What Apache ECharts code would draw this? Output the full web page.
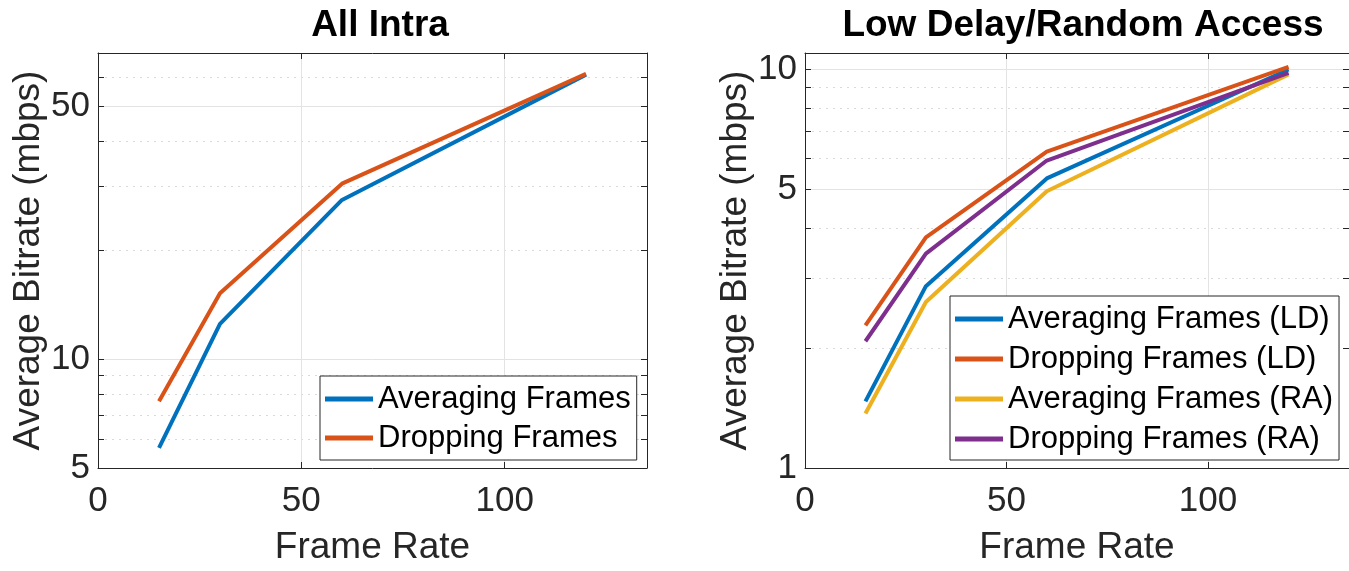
<!DOCTYPE html>
<html>
<head>
<meta charset="utf-8">
<script src="https://cdn.jsdelivr.net/npm/echarts@6/dist/echarts.min.js"></script>
<style>
  html, body { margin: 0; padding: 0; background: #fff; }
  #chart { width: 1349px; height: 571px; }
</style>
</head>
<body>
<div id="chart"></div>
<script>
// frame rates used on both panels
var frameRates = [15, 30, 60, 120]

// All Intra (mbps)
var aiAveraging = [5.68, 12.5, 27.5, 61]
var aiDropping = [7.64, 15.2, 30.5, 61.3]

// Low Delay / Random Access (mbps)
var ldAveraging = [1.47, 2.86, 5.33, 10.0]
var ldDropping = [2.28, 3.79, 6.22, 10.15]
var raAveraging = [1.37, 2.61, 4.95, 9.72]
var raDropping = [2.08, 3.45, 5.91, 9.8]

var xTicks = [0, 50, 100]
var aiTicks = [5, 10, 50]
var aiMinor = [6, 7, 8, 9, 20, 30, 40, 60, 70]
var rdTicks = [1, 5, 10]
var rdMinor = [2, 3, 4, 6, 7, 8, 9]

var colors = ['#0072BD', '#D95319', '#EDB120', '#7E2F8E']
var font = 'Liberation Sans, Arial, Helvetica, sans-serif'
var ink = '#262626'

function pairs (ys) {
  return frameRates.map(function (x, i) { return [x, ys[i]] })
}

function xAxes (grid) {
  return [
    {
      type: 'value', gridIndex: grid, min: 0, max: 135, position: 'bottom',
      name: 'Frame Rate', nameLocation: 'middle', nameGap: 61,
      nameTextStyle: { fontFamily: font, fontSize: 37, color: ink },
      axisLine: { lineStyle: { color: ink, width: 1 } },
      axisTick: { inside: true, length: 6, customValues: xTicks, lineStyle: { color: ink } },
      axisLabel: { customValues: xTicks, fontFamily: font, fontSize: 35, color: ink, margin: 16 },
      splitLine: { show: true, lineStyle: { color: '#e3e3e3', width: 1 } }
    },
    {
      type: 'value', gridIndex: grid, min: 0, max: 135, position: 'top',
      axisLine: { lineStyle: { color: ink, width: 1 } },
      axisTick: { inside: true, length: 6, customValues: xTicks, lineStyle: { color: ink } },
      axisLabel: { show: false },
      splitLine: { show: false }
    }
  ]
}

function yAxes (grid, lo, hi, major, minor, nameGap) {
  var base = { type: 'log', logBase: 10, gridIndex: grid, min: lo, max: hi }
  return [
    Object.assign({}, base, {
      position: 'left',
      name: 'Average Bitrate (mbps)', nameLocation: 'middle', nameGap: nameGap,
      nameTextStyle: { fontFamily: font, fontSize: 37, color: ink },
      axisLine: { show: true, lineStyle: { color: ink, width: 1 } },
      axisTick: { inside: true, length: 6, customValues: major, lineStyle: { color: ink } },
      axisLabel: { customValues: major, fontFamily: font, fontSize: 35, color: ink, margin: 8 },
      splitLine: { show: true, lineStyle: { color: '#e3e3e3', width: 1 } },
      minorTick: { show: false }, minorSplitLine: { show: false }
    }),
    Object.assign({}, base, {
      position: 'left',
      axisLine: { show: false },
      axisTick: { inside: true, length: 6, customValues: minor, lineStyle: { color: ink } },
      axisLabel: { show: false, customValues: minor },
      splitLine: { show: true, lineStyle: { color: '#dadada', width: 1, type: [2, 5] } }
    }),
    Object.assign({}, base, {
      position: 'right',
      axisLine: { show: true, lineStyle: { color: ink, width: 1 } },
      axisTick: { inside: true, length: 6, customValues: major, lineStyle: { color: ink } },
      axisLabel: { show: false, customValues: major },
      splitLine: { show: false }
    }),
    Object.assign({}, base, {
      position: 'right',
      axisLine: { show: false },
      axisTick: { inside: true, length: 6, customValues: minor, lineStyle: { color: ink } },
      axisLabel: { show: false, customValues: minor },
      splitLine: { show: false }
    })
  ]
}

function line (name, ys, color, xi, yi) {
  return {
    name: name, type: 'line', data: pairs(ys),
    xAxisIndex: xi, yAxisIndex: yi,
    showSymbol: false, symbol: 'none',
    lineStyle: { color: color, width: 4 }, itemStyle: { color: color },
    animation: false
  }
}

var legendText = { fontFamily: font, fontSize: 31, color: '#000', lineHeight: 34 }

var option = {
  animation: false,
  backgroundColor: '#fff',
  title: [
    { text: 'All Intra', left: 375, top: 2, textAlign: 'center',
      textStyle: { fontFamily: font, fontSize: 37, fontWeight: 'bold', color: '#000' } },
    { text: 'Low Delay/Random Access', left: 1078, top: 2, textAlign: 'center',
      textStyle: { fontFamily: font, fontSize: 37, fontWeight: 'bold', color: '#000' } }
  ],
  grid: [
    { left: 98, top: 53, width: 549, height: 417, show: false },
    { left: 805, top: 53, width: 549, height: 417, show: false }
  ],
  xAxis: xAxes(0).concat(xAxes(1)),
  yAxis: yAxes(0, 5, 70, aiTicks, aiMinor, 44).concat(yAxes(1, 1, 11, rdTicks, rdMinor, 44)),
  legend: [
    {
      data: ['Averaging Frames', 'Dropping Frames'],
      orient: 'vertical', left: 320, top: 376,
      padding: [6, 6, 5, 5], itemGap: 5, itemWidth: 48, itemHeight: 5,
      icon: 'rect', backgroundColor: '#fff', borderColor: ink, borderWidth: 1,
      textStyle: legendText
    },
    {
      data: ['Averaging Frames (LD)', 'Dropping Frames (LD)', 'Averaging Frames (RA)', 'Dropping Frames (RA)'],
      orient: 'vertical', left: 950, top: 296,
      padding: [6, 6, 4, 5], itemGap: 6, itemWidth: 48, itemHeight: 5,
      icon: 'rect', backgroundColor: '#fff', borderColor: ink, borderWidth: 1,
      textStyle: legendText
    }
  ],
  series: [
    line('Averaging Frames', aiAveraging, colors[0], 0, 0),
    line('Dropping Frames', aiDropping, colors[1], 0, 0),
    line('Averaging Frames (LD)', ldAveraging, colors[0], 2, 4),
    line('Dropping Frames (LD)', ldDropping, colors[1], 2, 4),
    line('Averaging Frames (RA)', raAveraging, colors[2], 2, 4),
    line('Dropping Frames (RA)', raDropping, colors[3], 2, 4)
  ]
}

var chart = echarts.init(document.getElementById('chart'), null, { renderer: 'canvas' })
chart.setOption(option)
</script>
</body>
</html>
